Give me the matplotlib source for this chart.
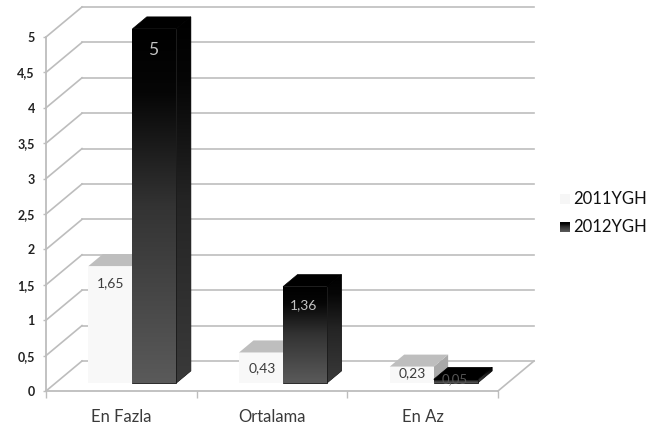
import numpy as np
import matplotlib
matplotlib.use('Agg')
import matplotlib.pyplot as plt
from matplotlib.colors import LinearSegmentedColormap
from matplotlib.patches import Polygon

plt.rcParams['font.family'] = ['Lato', 'DejaVu Sans']

categories = ['En Fazla', 'Ortalama', 'En Az']
series_names = ['2011YGH', '2012YGH']
values_2011 = [1.65, 0.43, 0.23]
values_2012 = [5, 1.36, 0.05]
labels_2011 = ['1,65', '0,43', '0,23']
labels_2012 = ['5', '1,36', '0,05']
y_ticks = [0, 0.5, 1, 1.5, 2, 2.5, 3, 3.5, 4, 4.5, 5]
y_tick_labels = ['0', '0,5', '1', '1,5', '2', '2,5', '3', '3,5', '4', '4,5', '5']

W, H = 647, 432
GRID = '#bdbdbd'

# offset of the back wall, in data units
DEPTH_X = 0.239
DEPTH_Y = 0.424
# bars stand between these two depths on the floor
BAR_FRONT = 0.27
BAR_BACK = 0.67
BAR_W = 0.292
BAR_START = 0.217

dark_front = LinearSegmentedColormap.from_list('front', [(0, '#5a5a5a'), (0.5, '#333333'), (0.82, '#060606'), (1, '#000000')])
dark_side = LinearSegmentedColormap.from_list('side', [(0, '#3a3a3a'), (0.5, '#242424'), (0.82, '#060606'), (1, '#000000')])


def proj(x, y, d):
    return (x + d * DEPTH_X, y + d * DEPTH_Y)


def gradient_poly(ax, pts, cmap):
    # vertical gradient clipped to a polygon, allowed to run past the axes box
    xs = [p[0] for p in pts]
    ys = [p[1] for p in pts]
    grad = np.linspace(0, 1, 256).reshape(-1, 1)
    # solid backing so no pale seam shows along the clipped edges
    ax.add_patch(Polygon(pts, fc='#1c1c1c', ec='#1c1c1c', lw=0.6, zorder=3, clip_on=False))
    im = ax.imshow(grad, origin='lower', cmap=cmap, aspect='auto', vmin=0, vmax=1,
                   extent=(min(xs), max(xs), min(ys), max(ys)), zorder=3)
    patch = Polygon(pts, closed=True, transform=ax.transData, fc='none', ec='none')
    ax.add_patch(patch)
    im.set_clip_path(patch)
    im.set_clip_box(fig.bbox)


def bar3d(ax, x, v, light):
    fl = proj(x, 0, BAR_FRONT)
    fr = proj(x + BAR_W, 0, BAR_FRONT)
    tl = proj(x, v, BAR_FRONT)
    tr = proj(x + BAR_W, v, BAR_FRONT)
    bl = proj(x, v, BAR_BACK)
    br = proj(x + BAR_W, v, BAR_BACK)
    sb = proj(x + BAR_W, 0, BAR_BACK)
    front = [fl, fr, tr, tl]
    top = [tl, tr, br, bl]
    side = [fr, sb, br, tr]
    if light:
        ax.add_patch(Polygon(side, fc='#a9a9a9', ec='none', zorder=3, clip_on=False))
        ax.add_patch(Polygon(front, fc='#f8f8f8', ec='none', zorder=3, clip_on=False))
        ax.add_patch(Polygon(top, fc='#bebebe', ec='none', zorder=3, clip_on=False))
    else:
        gradient_poly(ax, side, dark_side)
        gradient_poly(ax, front, dark_front)
        ax.add_patch(Polygon(top, fc='#000000', ec='#000000', lw=0.5, zorder=3, clip_on=False))


fig = plt.figure(figsize=(W / 100, H / 100), dpi=100)
ax = fig.add_axes([46 / W, (H - 391) / H, 452 / W, 354 / H])

# back wall and left wall lines
for v in y_ticks:
    x0, y0 = proj(0, v, 1)
    x1, y1 = proj(3, v, 1)
    ax.plot([x0, x1], [y0, y1], color=GRID, lw=1.2, zorder=1, clip_on=False)
    ax.plot([0, x0], [v, y0], color=GRID, lw=1.2, zorder=1, clip_on=False)
# right edge of the floor
x1, y1 = proj(3, 0, 1)
ax.plot([3, x1], [0, y1], color=GRID, lw=1.2, zorder=1, clip_on=False)

for i in range(len(categories)):
    x = i + BAR_START
    bar3d(ax, x, values_2011[i], True)
    bar3d(ax, x + BAR_W, values_2012[i], False)

# value labels sit a little under the top of each bar (offsets in points)
drop_2011 = [12, 11, 4.5]
drop_2012 = [15, 13, 0]
size_2012 = [12.5, 10, 9.5]
for i in range(len(categories)):
    x = i + BAR_START + BAR_W / 2 + BAR_FRONT * DEPTH_X
    base = BAR_FRONT * DEPTH_Y
    ax.annotate(labels_2011[i], (x, values_2011[i] + base), xytext=(0.5, -drop_2011[i]),
                textcoords='offset points', ha='center', va='center', fontsize=10,
                color='#3c3c3c', zorder=5, annotation_clip=False)
    ax.annotate(labels_2012[i], (x + BAR_W, values_2012[i] + base), xytext=(-1, -drop_2012[i]),
                textcoords='offset points', ha='center', va='center', fontsize=size_2012[i],
                color='#c4c4c4' if i < 2 else '#555555', zorder=5, annotation_clip=False)

ax.set_xlim(0, 3)
ax.set_ylim(0, 5)
ax.patch.set_visible(False)
for s in ['top', 'right']:
    ax.spines[s].set_visible(False)
for s in ['left', 'bottom']:
    ax.spines[s].set_color(GRID)
    ax.spines[s].set_linewidth(1.3)
    ax.spines[s].set_zorder(2)

ax.set_yticks(y_ticks)
ax.set_yticklabels(y_tick_labels, fontsize=9, color='#222222', fontweight='bold')
ax.tick_params(axis='y', length=2, width=1, color=GRID, pad=6)
ax.set_xticks([0, 1, 2, 3])
ax.set_xticklabels([])
ax.tick_params(axis='x', which='major', length=5, width=1, color=GRID)
ax.set_xticks([0.5, 1.5, 2.5], minor=True)
ax.set_xticklabels(categories, minor=True, fontsize=12, color='#3a3a3a')
ax.tick_params(axis='x', which='minor', length=0, pad=13)

# legend on the right
fig.text(573 / W, (H - 199) / H, series_names[0], fontsize=12, color='#111111', va='center')
fig.text(573 / W, (H - 227) / H, series_names[1], fontsize=12, color='#111111', va='center')
sw1 = fig.add_axes([560 / W, (H - 204) / H, 10 / W, 10 / H])
sw1.set_facecolor('#f6f6f6')
sw1.set_xticks([])
sw1.set_yticks([])
for s in sw1.spines.values():
    s.set_visible(False)
sw2 = fig.add_axes([560 / W, (H - 232) / H, 10 / W, 10 / H])
sw2.imshow(np.linspace(0, 1, 32).reshape(-1, 1), origin='lower', cmap=dark_front, aspect='auto')
sw2.axis('off')

fig.savefig('out.png', dpi=100)
